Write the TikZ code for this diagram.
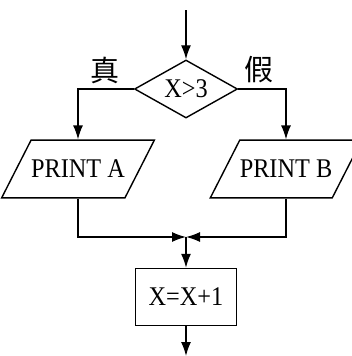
\documentclass[tikz,border=0pt]{standalone}
\usepackage{fontspec}
\setmainfont[FakeStretch=0.9]{Liberation Serif}
\newfontfamily\cjk{Noto Sans CJK SC}
\usetikzlibrary{arrows.meta,shapes.geometric}

\begin{document}
\begin{tikzpicture}[x=1pt,y=-1pt,line width=1.4pt,
		arr/.style={-{Latex[length=14pt,width=10pt]}},
		judge/.style={draw,diamond,aspect=1.78,inner sep=0pt,minimum width=103pt,minimum height=58pt},
		io/.style={draw,trapezium,trapezium left angle=63,trapezium right angle=117,trapezium stretches body,inner xsep=0pt,inner ysep=20pt,minimum width=141pt},
		proc/.style={draw,rectangle,inner sep=0pt,minimum width=101pt,minimum height=57pt},
		font=\fontsize{27}{30}\selectfont]
		\useasboundingbox (0,0) rectangle (351,356);
		% 绘制框图
		\coordinate (start) at (186,10);
		\node[judge] (cond) at (186,89) {X>3};
		\node[io] (pa) at (78,169) {PRINT A};
		\node[io] (pb) at (286,169) {PRINT B};
		\coordinate (join) at (186,237);
		\node[proc] (inc) at (186,297) {X=X+1};
		\coordinate (stop) at (186,356);
		% 绘制流程线
		\draw[arr] (start) -- (cond);
		\draw[arr] (cond.west) -| (pa);
		\draw[arr] (cond.east) -| (pb);
		\draw[arr] (pa) |- (join);
		\draw[arr] (pb) |- (join);
		\draw[arr] (join) -- (inc);
		\draw[arr] (inc) -- (stop);
		% 绘制分支标签
		\node[font=\cjk\fontsize{29}{32}\selectfont] (yes) at (105,70) {真};
		\node[font=\cjk\fontsize{29}{32}\selectfont] (no) at (259,70) {假};
	\end{tikzpicture}
\end{document}
